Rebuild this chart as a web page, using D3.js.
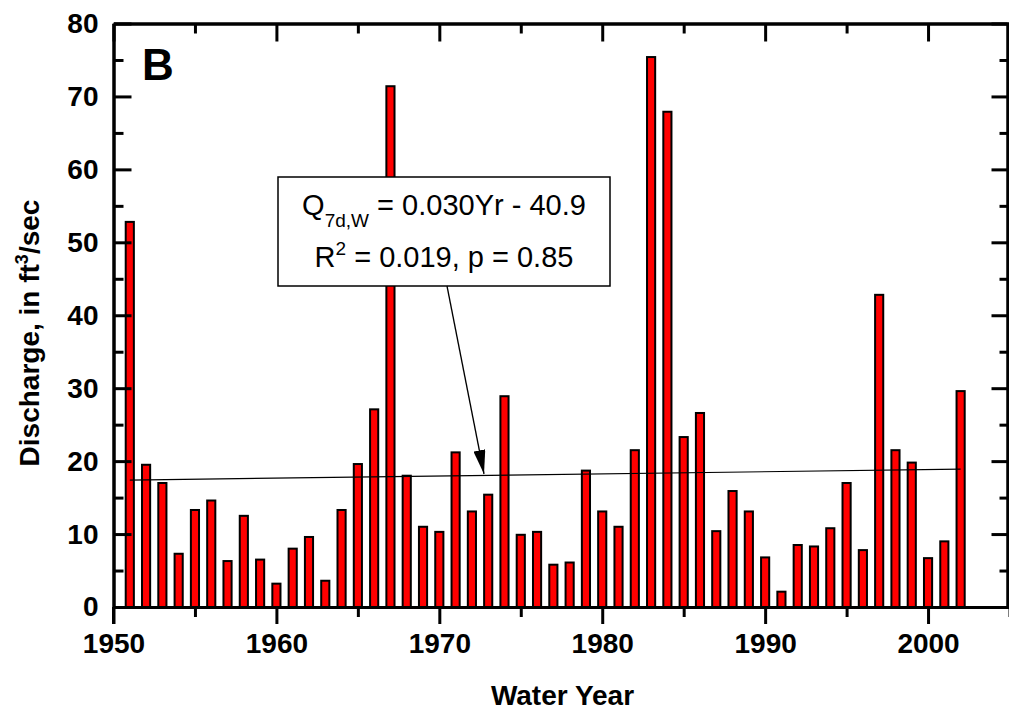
<!DOCTYPE html>
<html>
<head>
<meta charset="utf-8">
<script src="https://cdn.jsdelivr.net/npm/d3@7"></script>
<style>
  html, body { margin: 0; padding: 0; background: #fff; }
  svg { display: block; }
  text { font-family: "Liberation Sans", Arial, sans-serif; }
</style>
</head>
<body>
<svg id="chart" width="1009" height="713"></svg>
<script>
// ---- data ----
const years = [1951,1952,1953,1954,1955,1956,1957,1958,1959,1960,
               1961,1962,1963,1964,1965,1966,1967,1968,1969,1970,
               1971,1972,1973,1974,1975,1976,1977,1978,1979,1980,
               1981,1982,1983,1984,1985,1986,1987,1988,1989,1990,
               1991,1992,1993,1994,1995,1996,1997,1998,1999,2000,
               2001,2002];
const discharge = [52.8,19.5,17.0,7.3,13.3,14.6,6.3,12.5,6.5,3.2,
                   8.0,9.6,3.6,13.3,19.6,27.1,71.4,18.0,11.0,10.3,
                   21.2,13.1,15.4,28.9,9.9,10.3,5.8,6.1,18.7,13.1,
                   11.0,21.5,75.4,67.9,23.3,26.6,10.4,15.9,13.1,6.8,
                   2.1,8.5,8.3,10.8,17.0,7.8,42.8,21.5,19.8,6.7,
                   9.0,29.6];
const trendYears = [1951, 2002];
const trendValues = [17.4, 18.9];
const xMajorTicks = [1950,1960,1970,1980,1990,2000];
const xMinorTicks = [1955,1965,1975,1985,1995,2005];
const yMajorTicks = [0,10,20,30,40,50,60,70,80];
const yMinorTicks = [5,15,25,35,45,55,65,75];
const panelLabel = "B";
const xTitle = "Water Year";
const eqLine1 = {base: "Q", sub: "7d,W", rest: " = 0.030Yr - 40.9"};
const eqLine2 = {base: "R", sup: "2", rest: " = 0.019, p = 0.85"};

// ---- layout ----
const svg = d3.select("#chart");
const L = 113.5, R = 1009.5, T = 23.5, B = 607;
const x = d3.scaleLinear().domain([1950, 2005]).range([L, R]);
const y = d3.scaleLinear().domain([0, 80]).range([B, T]);
const barW = (x(1951) - x(1950)) * 0.5;

// bars
svg.append("g").selectAll("rect")
  .data(years.map((yr, i) => ({yr, v: discharge[i]})))
  .join("rect")
  .attr("x", d => x(d.yr) - barW / 2)
  .attr("width", barW)
  .attr("y", d => y(d.v))
  .attr("height", d => y(0) - y(d.v))
  .attr("fill", "#ff0000")
  .attr("stroke", "#000")
  .attr("stroke-width", 2);

// trend line
svg.append("line")
  .attr("x1", x(trendYears[0])).attr("y1", y(trendValues[0]))
  .attr("x2", x(trendYears[1])).attr("y2", y(trendValues[1]))
  .attr("stroke", "#000").attr("stroke-width", 1.2);

// axes
function styleAxis(g) {
  g.selectAll("path.domain").attr("stroke", "#000").attr("stroke-width", 3);
  g.selectAll(".tick line").attr("stroke", "#000").attr("stroke-width", 3);
  g.selectAll(".tick text").attr("font-size", 28).attr("font-weight", "bold")
    .attr("fill", "#000").attr("font-family", '"Liberation Sans", Arial, sans-serif');
}
const fmt = d3.format("d");
// bottom
svg.append("g").attr("transform", `translate(0,${B})`)
  .call(d3.axisBottom(x).tickValues(xMajorTicks).tickFormat(fmt).tickSizeInner(17).tickSizeOuter(0).tickPadding(9))
  .call(styleAxis);
svg.append("g").attr("transform", `translate(0,${B})`)
  .call(d3.axisBottom(x).tickValues(xMinorTicks).tickFormat("").tickSizeInner(10).tickSizeOuter(0))
  .call(styleAxis);
// top
svg.append("g").attr("transform", `translate(0,${T})`)
  .call(d3.axisTop(x).tickValues(xMajorTicks).tickFormat("").tickSizeInner(-18).tickSizeOuter(0))
  .call(styleAxis);
svg.append("g").attr("transform", `translate(0,${T})`)
  .call(d3.axisTop(x).tickValues(xMinorTicks).tickFormat("").tickSizeInner(-10).tickSizeOuter(0))
  .call(styleAxis);
// left
svg.append("g").attr("transform", `translate(${L},0)`)
  .call(d3.axisLeft(y).tickValues(yMajorTicks).tickFormat(fmt).tickSizeInner(-18).tickSizeOuter(0).tickPadding(15))
  .call(styleAxis);
svg.append("g").attr("transform", `translate(${L},0)`)
  .call(d3.axisLeft(y).tickValues(yMinorTicks).tickFormat("").tickSizeInner(-10).tickSizeOuter(0))
  .call(styleAxis);
// right
svg.append("g").attr("transform", `translate(${R - 2},0)`)
  .call(d3.axisRight(y).tickValues(yMajorTicks).tickFormat("").tickSizeInner(-16).tickSizeOuter(0))
  .call(styleAxis);
svg.append("g").attr("transform", `translate(${R - 2},0)`)
  .call(d3.axisRight(y).tickValues(yMinorTicks).tickFormat("").tickSizeInner(-8).tickSizeOuter(0))
  .call(styleAxis);
// bottom-left corner extension
svg.append("line").attr("x1", L).attr("x2", L).attr("y1", B).attr("y2", B + 17)
  .attr("stroke", "#000").attr("stroke-width", 3);

// panel label
svg.append("text").attr("x", 142).attr("y", 80)
  .attr("font-size", 44).attr("font-weight", "bold").text(panelLabel);

// axis titles
svg.append("text").attr("x", (L + R) / 2 + 1).attr("y", 705)
  .attr("text-anchor", "middle").attr("font-size", 28).attr("font-weight", "bold")
  .text(xTitle);
const yt = svg.append("text")
  .attr("transform", "translate(39,333) rotate(-90)")
  .attr("text-anchor", "middle").attr("font-size", 28).attr("font-weight", "bold");
yt.append("tspan").text("Discharge, in ft");
yt.append("tspan").attr("font-size", 18).attr("dy", -11).text("3");
yt.append("tspan").attr("dy", 11).text("/sec");

// annotation box
const bx = 278, by = 177, bw = 332, bh = 109;
svg.append("rect").attr("x", bx).attr("y", by).attr("width", bw).attr("height", bh)
  .attr("fill", "#fff").attr("stroke", "#000").attr("stroke-width", 1.5);
const cx = bx + bw / 2;
const t1 = svg.append("text").attr("x", cx).attr("y", 215)
  .attr("text-anchor", "middle").attr("font-size", 29);
t1.append("tspan").text(eqLine1.base);
t1.append("tspan").attr("font-size", 19).attr("dy", 12).text(eqLine1.sub);
t1.append("tspan").attr("dy", -12).text(eqLine1.rest);
const t2 = svg.append("text").attr("x", cx).attr("y", 267)
  .attr("text-anchor", "middle").attr("font-size", 29);
t2.append("tspan").text(eqLine2.base);
t2.append("tspan").attr("font-size", 19).attr("dy", -12).text(eqLine2.sup);
t2.append("tspan").attr("dy", 12).text(eqLine2.rest);

// arrow
svg.append("defs").append("marker")
  .attr("id", "ah").attr("viewBox", "0 0 24 12").attr("refX", 24).attr("refY", 6)
  .attr("markerUnits", "userSpaceOnUse").attr("markerWidth", 24).attr("markerHeight", 12)
  .attr("orient", "auto")
  .append("path").attr("d", "M0,0 L24,6 L0,12 Z").attr("fill", "#000");
svg.append("line")
  .attr("x1", 447).attr("y1", by + bh)
  .attr("x2", 484).attr("y2", 474)
  .attr("stroke", "#000").attr("stroke-width", 1.3)
  .attr("marker-end", "url(#ah)");
</script>
</body>
</html>
